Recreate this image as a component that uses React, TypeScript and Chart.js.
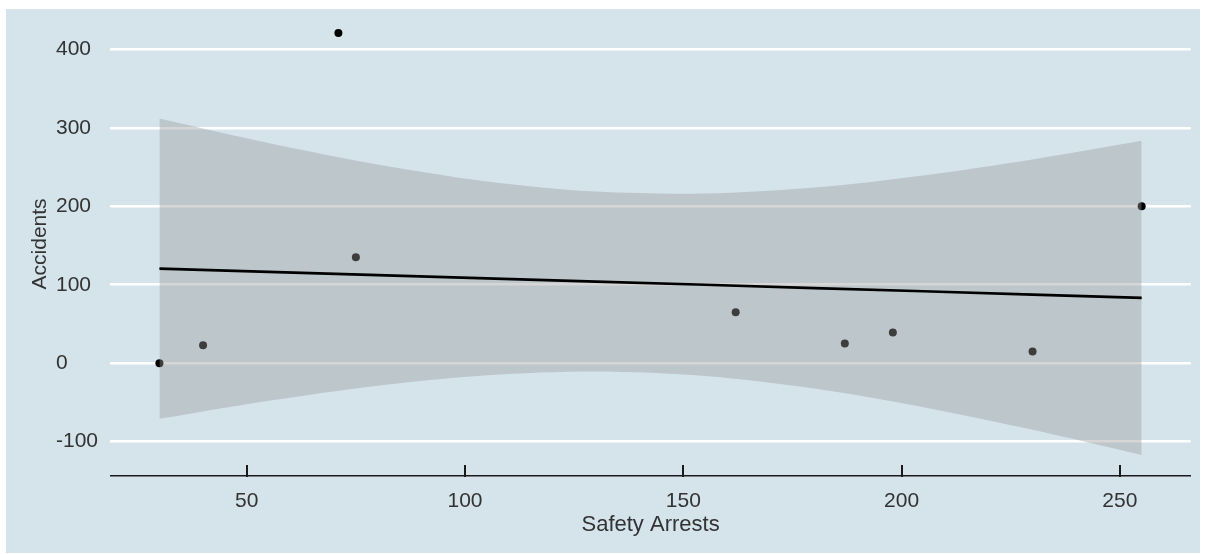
import { useEffect, useRef } from "react";
import { Chart, registerables } from "chart.js";

Chart.register(...registerables);

// Observations
const arrests = [30, 40, 71, 75, 162, 187, 198, 230, 255];
const accidents = [0, 23, 421, 135, 65, 25, 39, 15, 200];

// Linear fit with its 95% confidence band
const smoothX = [30, 55, 80, 105, 130, 155, 180, 205, 230, 255];
const smoothFit = [120.5, 116.4, 112.3, 108.1, 104.0, 99.9, 95.7, 91.6, 87.4, 83.3];
const smoothUpper = [311.9, 280.7, 253.3, 231.7, 218.7, 216.2, 223.8, 239.3, 259.7, 283.5];
const smoothLower = [-70.9, -47.9, -28.7, -15.5, -10.7, -16.4, -32.4, -56.1, -84.9, -116.9];

const xTicks = [50, 100, 150, 200, 250];
const yTicks = [-100, 0, 100, 200, 300, 400];

const X_MIN = 18.75;
const X_MAX = 266.25;
const Y_MIN = -143.8;
const Y_MAX = 447.9;

const FONT = "'Liberation Sans', Arial, sans-serif";
const TEXT = "#333333";
const AXIS = "#1a1a1a";
const BG = "#d5e4eb";

// Short tick marks on the x axis that point up into the panel
const inwardTicks = {
  id: "inwardTicks",
  afterDatasetsDraw(chart: any) {
    const scale = chart.scales.x;
    const ctx = chart.ctx as CanvasRenderingContext2D;
    const base = chart.chartArea.bottom;
    ctx.save();
    ctx.strokeStyle = AXIS;
    ctx.lineWidth = 2;
    ctx.beginPath();
    for (const v of xTicks) {
      const px = Math.round(scale.getPixelForValue(v));
      ctx.moveTo(px, base + 1);
      ctx.lineTo(px, base - 11);
    }
    ctx.stroke();
    ctx.restore();
  },
};

export default function App() {
  const canvasRef = useRef<HTMLCanvasElement | null>(null);

  useEffect(() => {
    const canvas = canvasRef.current;
    if (!canvas) return;

    const pts = (xs: number[], ys: number[]) => xs.map((x, i) => ({ x, y: ys[i] }));

    const chart = new Chart(canvas, {
      type: "line",
      data: {
        datasets: [
          {
            label: "fit",
            data: pts(smoothX, smoothFit),
            borderColor: "#000000",
            borderWidth: 2.6,
            pointRadius: 0,
            fill: false,
            tension: 0,
            order: 0,
          },
          {
            label: "upper",
            data: pts(smoothX, smoothUpper),
            borderWidth: 0,
            borderColor: "rgba(0,0,0,0)",
            backgroundColor: "rgba(153,153,153,0.4)",
            pointRadius: 0,
            fill: "+1",
            tension: 0.3,
            order: 1,
          },
          {
            label: "lower",
            data: pts(smoothX, smoothLower),
            borderWidth: 0,
            borderColor: "rgba(0,0,0,0)",
            pointRadius: 0,
            fill: false,
            tension: 0.3,
            order: 1,
          },
          {
            label: "Accidents",
            data: pts(arrests, accidents),
            showLine: false,
            pointRadius: 4,
            pointBorderWidth: 0,
            pointBackgroundColor: "#000000",
            borderColor: "#000000",
            order: 2,
          },
        ],
      },
      options: {
        responsive: false,
        animation: false,
        devicePixelRatio: 1,
        layout: { autoPadding: false, padding: { left: 50, top: 2.8, right: 9.2, bottom: 0 } },
        plugins: {
          legend: { display: false },
          tooltip: { enabled: false },
        },
        scales: {
          x: {
            type: "linear",
            min: X_MIN,
            max: X_MAX,
            afterBuildTicks: (scale: any) => {
              scale.ticks = xTicks.map((v) => ({ value: v }));
            },
            afterFit: (scale: any) => {
              scale.height = 77;
              scale.paddingLeft = 0;
              scale.paddingRight = 0;
            },
            grid: { display: false, drawTicks: false },
            border: { display: true, color: AXIS, width: 1.5 },
            ticks: {
              color: TEXT,
              font: { family: FONT, size: 21 },
              padding: 12.4,
              maxRotation: 0,
            },
            title: {
              display: true,
              text: "Safety Arrests",
              color: TEXT,
              font: { family: FONT, size: 22 },
              padding: { top: 0, bottom: 15 },
            },
          },
          y: {
            type: "linear",
            min: Y_MIN,
            max: Y_MAX,
            afterBuildTicks: (scale: any) => {
              scale.ticks = yTicks.map((v) => ({ value: v }));
            },
            afterFit: (scale: any) => {
              scale.width = 54.3;
              scale.paddingTop = 0;
              scale.paddingBottom = 0;
            },
            grid: {
              display: true,
              color: "#ffffff",
              lineWidth: 2.5,
              drawTicks: false,
            },
            border: { display: false },
            ticks: {
              color: TEXT,
              font: { family: FONT, size: 21 },
              crossAlign: "far",
            },
            title: {
              display: true,
              text: "Accidents",
              color: TEXT,
              font: { family: FONT, size: 21 },
              padding: { top: -28.6, bottom: 0 },
            },
          },
        },
      },
      plugins: [inwardTicks],
    });

    return () => chart.destroy();
  }, []);

  return (
    <div
      style={{
        position: "absolute",
        left: 6,
        top: 9,
        width: 1194,
        height: 544,
        background: BG,
      }}
    >
      <canvas ref={canvasRef} width={1194} height={544} style={{ display: "block" }} />
    </div>
  );
}
